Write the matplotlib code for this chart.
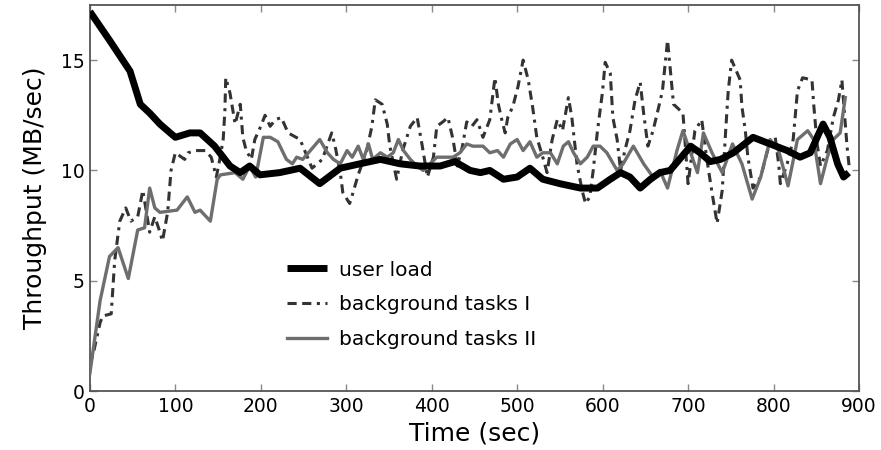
import matplotlib
matplotlib.use("Agg")
import matplotlib.pyplot as plt

# ---- data ----
user_t = [0, 23, 47, 59, 70, 82, 100, 117, 129, 146, 164, 176, 187, 199, 222, 246, 269,
          293, 316, 340, 363, 386, 410, 427, 445, 457, 468, 484, 500, 515, 530, 550, 574,
          594, 609, 621, 632, 644, 656, 667, 679, 703, 714, 726, 738, 753, 776, 796, 816,
          831, 843, 858, 866, 875, 882, 888]
user_v = [17.2, 15.9, 14.5, 13.0, 12.6, 12.1, 11.5, 11.7, 11.7, 11.1, 10.2, 9.9, 10.2, 9.8,
          9.9, 10.1, 9.4, 10.1, 10.3, 10.5, 10.3, 10.2, 10.2, 10.4, 10.0, 9.9, 10.0, 9.6,
          9.7, 10.1, 9.6, 9.4, 9.2, 9.2, 9.6, 9.9, 9.7, 9.2, 9.6, 9.9, 10.0, 11.1, 10.8,
          10.4, 10.5, 10.8, 11.5, 11.2, 10.9, 10.6, 10.8, 12.1, 11.5, 10.3, 9.7, 9.9]

bg1_t = [0, 4, 12, 15, 25, 29, 35, 42, 48, 56, 62, 70, 76, 82, 85, 91, 95, 100, 111, 115,
         124, 135, 142, 148, 152, 156, 158, 159, 164, 170, 176, 179, 183, 189, 193, 200,
         205, 211, 217, 224, 232, 246, 260, 272, 283, 287, 293, 296, 304, 308, 314, 324,
         330, 334, 342, 348, 351, 359, 366, 375, 383, 389, 395, 402, 406, 413, 419, 425,
         430, 436, 441, 447, 453, 460, 468, 474, 478, 482, 486, 489, 495, 501, 507, 513,
         518, 523, 530, 535, 541, 547, 553, 560, 564, 570, 576, 580, 585, 589, 594, 600,
         603, 609, 612, 617, 621, 626, 632, 638, 644, 648, 653, 659, 664, 670, 676, 683,
         694, 700, 708, 716, 722, 728, 734, 740, 744, 747, 751, 761, 763, 767, 770, 776,
         785, 793, 802, 806, 808, 816, 823, 828, 834, 845, 847, 851, 855, 863, 870, 876,
         880, 884, 886, 889]
bg1_v = [1.2, 1.7, 3.1, 3.4, 3.5, 5.9, 7.7, 8.3, 7.7, 7.9, 9.1, 7.2, 7.9, 7.2, 6.8, 8.1,
         10.0, 10.8, 10.5, 10.8, 10.9, 10.9, 10.6, 9.7, 10.5, 11.4, 12.7, 14.2, 13.5, 12.1,
         13.0, 11.5, 10.9, 10.5, 11.4, 12.0, 12.5, 12.0, 12.3, 12.4, 11.7, 11.4, 10.1, 10.5,
         11.7, 11.1, 9.9, 9.0, 8.5, 9.0, 9.8, 10.9, 12.0, 13.2, 13.0, 12.1, 11.1, 9.6, 10.9,
         12.0, 12.4, 11.1, 9.7, 10.6, 12.0, 12.2, 12.4, 11.4, 10.2, 11.1, 12.2, 12.0, 12.3,
         11.5, 12.3, 14.2, 13.0, 12.3, 11.7, 12.4, 12.9, 13.8, 15.0, 14.1, 12.9, 11.5, 10.6,
         9.9, 11.4, 12.3, 11.8, 13.3, 12.4, 10.3, 9.1, 8.5, 8.8, 10.0, 11.8, 13.6, 14.9,
         14.4, 12.4, 11.4, 10.0, 10.9, 11.8, 13.2, 14.0, 12.6, 11.1, 11.8, 12.6, 13.6, 15.9,
         13.0, 12.6, 9.4, 11.8, 12.3, 10.5, 9.0, 7.6, 9.1, 11.8, 13.6, 15.0, 14.1, 12.9,
         11.8, 10.6, 9.2, 9.7, 10.9, 11.5, 10.3, 9.4, 10.3, 11.4, 13.6, 14.2, 14.1, 13.0,
         11.2, 10.2, 10.9, 12.4, 13.2, 14.1, 12.1, 11.1, 10.0]

bg2_t = [0, 12, 23, 33, 45, 56, 64, 70, 76, 82, 102, 114, 123, 129, 141, 149, 153, 170,
         179, 187, 194, 203, 211, 220, 230, 237, 242, 249, 258, 269, 278, 285, 293, 301,
         307, 314, 320, 326, 331, 340, 348, 355, 361, 367, 375, 383, 390, 398, 406, 418,
         425, 433, 441, 448, 460, 468, 477, 484, 492, 500, 507, 515, 523, 530, 539, 547,
         554, 560, 566, 574, 582, 589, 597, 605, 617, 624, 636, 648, 659, 667, 676, 687,
         694, 703, 711, 718, 728, 740, 752, 763, 775, 785, 796, 806, 817, 828, 840, 847,
         855, 863, 870, 878, 884]
bg2_v = [0.8, 4.1, 6.1, 6.5, 5.1, 7.3, 7.4, 9.2, 8.3, 8.1, 8.2, 8.8, 8.1, 8.2, 7.7, 9.6,
         9.8, 9.9, 9.6, 10.2, 9.7, 11.5, 11.5, 11.3, 10.5, 10.3, 10.6, 10.5, 10.9, 11.4,
         10.8, 10.5, 10.3, 10.9, 10.6, 11.1, 10.5, 11.2, 10.5, 10.8, 10.6, 10.8, 11.4,
         10.9, 10.5, 10.2, 10.0, 10.3, 10.6, 10.6, 10.6, 10.8, 11.2, 11.1, 11.1, 10.8,
         10.9, 10.6, 11.2, 11.4, 10.9, 11.3, 10.6, 10.8, 10.8, 10.3, 11.1, 11.3, 10.8,
         10.3, 10.6, 11.1, 11.1, 10.8, 10.0, 10.3, 11.1, 10.3, 9.7, 10.0, 9.2, 10.9, 11.8,
         10.8, 9.9, 11.7, 10.8, 9.9, 11.2, 10.3, 8.7, 9.7, 11.4, 10.9, 9.3, 11.4, 11.8,
         11.4, 9.4, 10.6, 11.4, 11.7, 13.3]

x_ticks = [0, 100, 200, 300, 400, 500, 600, 700, 800, 900]
y_ticks = [0, 5, 10, 15]
labels = ["user load", "background tasks I", "background tasks II"]

fig = plt.figure(figsize=(8.81, 4.5), dpi=100)
ax = fig.add_axes([0.102, 0.131, 0.873, 0.858])

ax.plot(bg1_t, bg1_v, color="#333333", lw=2.2, dashes=(3, 1.8, 3, 1.8, 1, 1.8),
        label=labels[1], zorder=2)
ax.plot(bg2_t, bg2_v, color="#6e6e6e", lw=2.4, label=labels[2], zorder=3,
        solid_joinstyle="round")
ax.plot(user_t, user_v, color="black", lw=5, label=labels[0], zorder=4,
        solid_capstyle="butt", solid_joinstyle="round")

ax.set_xlim(0, 900)
ax.set_ylim(0, 17.5)
ax.set_xticks(x_ticks)
ax.set_yticks(y_ticks)
ax.tick_params(direction="in", top=True, right=True, length=5, width=1,
               color="#888888", labelsize=13.5, pad=4)
for s in ax.spines.values():
    s.set_color("#555555")
    s.set_linewidth(1.3)

ax.set_xlabel("Time (sec)", fontsize=18, labelpad=4)
ax.set_ylabel("Throughput (MB/sec)", fontsize=18, labelpad=10)

h, l = ax.get_legend_handles_labels()
order = [2, 0, 1]
ax.legend([h[i] for i in order], [l[i] for i in order], loc="upper left",
          bbox_to_anchor=(0.233, 0.385), frameon=False, fontsize=14.5,
          handlelength=2.0, labelspacing=0.78, handletextpad=0.55)

fig.savefig("out.png", dpi=100)
